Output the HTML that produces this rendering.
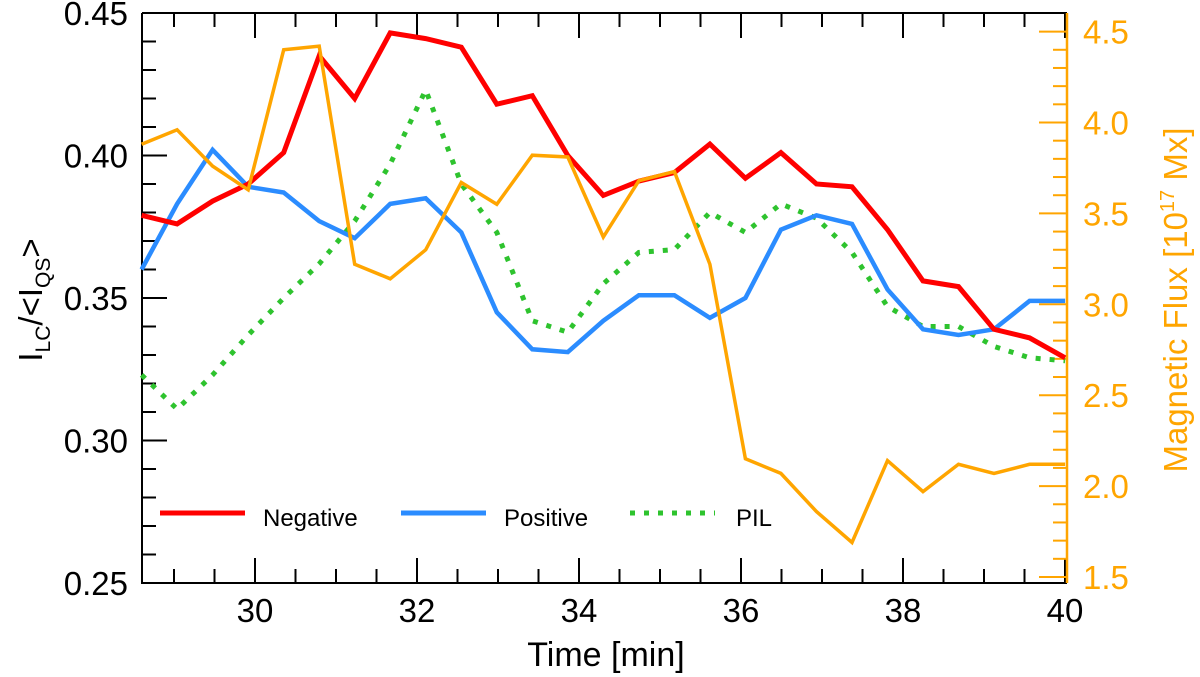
<!DOCTYPE html>
<html><head><meta charset="utf-8"><style>
html,body{margin:0;padding:0;background:#fff;}
svg{display:block;font-family:"Liberation Sans",Arial,sans-serif;}
</style></head><body>
<svg id="chart" width="1200" height="677" viewBox="0 0 1200 677">
<g id="axes"></g><g id="series"></g><g id="legend"></g>
</svg>
<script>
const t0 = 28.6, tStep = 0.4385;
const negative = [0.379,0.376,0.384,0.390,0.401,0.435,0.420,0.443,0.441,0.438,0.418,0.421,0.400,0.386,0.391,0.394,0.404,0.392,0.401,0.390,0.389,0.374,0.356,0.354,0.339,0.336,0.329];
const positive = [0.360,0.383,0.402,0.389,0.387,0.377,0.371,0.383,0.385,0.373,0.345,0.332,0.331,0.342,0.351,0.351,0.343,0.350,0.374,0.379,0.376,0.353,0.339,0.337,0.339,0.349,0.349];
const pil = [0.323,0.311,0.323,0.337,0.350,0.362,0.377,0.397,0.423,0.390,0.373,0.342,0.338,0.355,0.366,0.367,0.380,0.373,0.383,0.378,0.366,0.347,0.340,0.340,0.333,0.329,0.328];
const flux = [3.88,3.96,3.76,3.63,4.40,4.42,3.22,3.14,3.30,3.67,3.55,3.82,3.81,3.37,3.68,3.73,3.22,2.15,2.07,1.86,1.69,2.14,1.97,2.12,2.07,2.12,2.12];
const xTicks = [30,32,34,36,38,40];
const yTicks = [0.25,0.30,0.35,0.40,0.45];
const y2Ticks = [1.5,2.0,2.5,3.0,3.5,4.0,4.5];

const L=142,R=1067,T=13,B=583;
const xs = t => 255 + (t-30)*81;
const ys = v => B - (v-0.25)*2850;
const y2s = v => 577 - (v-1.5)*181.8;
const NS="http://www.w3.org/2000/svg";
function mk(tag,attrs,parent,txt){const e=document.createElementNS(NS,tag);for(const k in attrs)e.setAttribute(k,attrs[k]);if(txt!==undefined)e.textContent=txt;parent.appendChild(e);return e;}
const ax=document.getElementById('axes'), se=document.getElementById('series'), lg=document.getElementById('legend');
const OR="#ffa500";
let fr=mk('path',{d:`M${L},${T}H${R}M${L},${T}V${B}H${R}`,stroke:'#000','stroke-width':2,fill:'none'},ax);


for(let t=29;t<=40.001;t+=0.5){const x=xs(t);const maj=Math.abs(t-Math.round(t/2)*2)<0.01;const len=maj?25:14;
 mk('line',{x1:x,x2:x,y1:B,y2:B-len,stroke:'#000','stroke-width':2},ax);
 mk('line',{x1:x,x2:x,y1:T,y2:T+len,stroke:'#000','stroke-width':2},ax);}
xTicks.forEach(t=>{const e=mk('text',{x:xs(t),y:622,'font-size':33,'text-anchor':'middle'},ax,String(t));
 
 });
let xt=mk('text',{x:606,y:666,'font-size':34,'text-anchor':'middle'},ax,'Time [min]');


for(let i=0;i<=20;i++){const v=0.25+i*0.01;const y=ys(v);const maj=i%5===0;
 mk('line',{x1:L,x2:L+(maj?25:14),y1:y,y2:y,stroke:'#000','stroke-width':2},ax);}
yTicks.forEach(v=>{const e=mk('text',{x:128,y:ys(v)+12,'font-size':33,'text-anchor':'end'},ax,v.toFixed(2));
 
 });
let yt=mk('text',{transform:'translate(42,300) rotate(-90)','font-size':33,'text-anchor':'middle'},ax);


yt.innerHTML='I<tspan font-size="21" dy="8">LC</tspan><tspan dy="-8">/&lt;I</tspan><tspan font-size="21" dy="8">QS</tspan><tspan dy="-8">&gt;</tspan>';
let ra=mk('line',{x1:R,x2:R,y1:T,y2:B,stroke:OR,'stroke-width':2.5},ax);


for(let i=0;i<=30;i++){const v=1.5+i*0.1;if(v>4.62)break;const y=y2s(v);const maj=i%5===0;
 mk('line',{x1:R,x2:R-(maj?28:14),y1:y,y2:y,stroke:OR,'stroke-width':2},ax);}
y2Ticks.forEach(v=>{const e=mk('text',{x:1083,y:y2s(v)+12,'font-size':33,fill:OR},ax,v.toFixed(1));
 
 });
let y2t=mk('text',{transform:'translate(1187,300) rotate(-90)','font-size':33,fill:OR,'text-anchor':'middle'},ax);


y2t.innerHTML='Magnetic Flux [10<tspan font-size="20" dy="-13">17</tspan><tspan dy="13"> Mx]</tspan>';
function line(arr,sc,col,w,dash,name){const d=arr.map((v,i)=>(i?'L':'M')+xs(t0+i*tStep).toFixed(1)+','+sc(v).toFixed(1)).join('');
 const p=mk('path',{d,stroke:col,'stroke-width':w,fill:'none','stroke-linejoin':'miter'},se);
 if(dash)p.setAttribute('stroke-dasharray',dash);
 
 }
line(pil,ys,'#2ec32e',5,'5,9','pil-line');
line(positive,ys,'#2b8cff',4.5,null,'positive-line');
line(negative,ys,'#ff0000',5,null,'negative-line');
line(flux,y2s,OR,3.5,null,'magnetic-flux-line');
const leg=[['Negative','#ff0000',null,160,263],['Positive','#2b8cff',null,401,504],['PIL','#2ec32e','5,9',630,736]];
leg.forEach(([n,c,d,x1,tx])=>{const g=mk('g',{},lg);
 
 
 const l=mk('line',{x1,x2:x1+85,y1:513,y2:513,stroke:c,'stroke-width':5},g);
 if(d)l.setAttribute('stroke-dasharray',d);
 mk('text',{x:tx,y:526,'font-size':24},g,n);});
</script>
</body></html>
